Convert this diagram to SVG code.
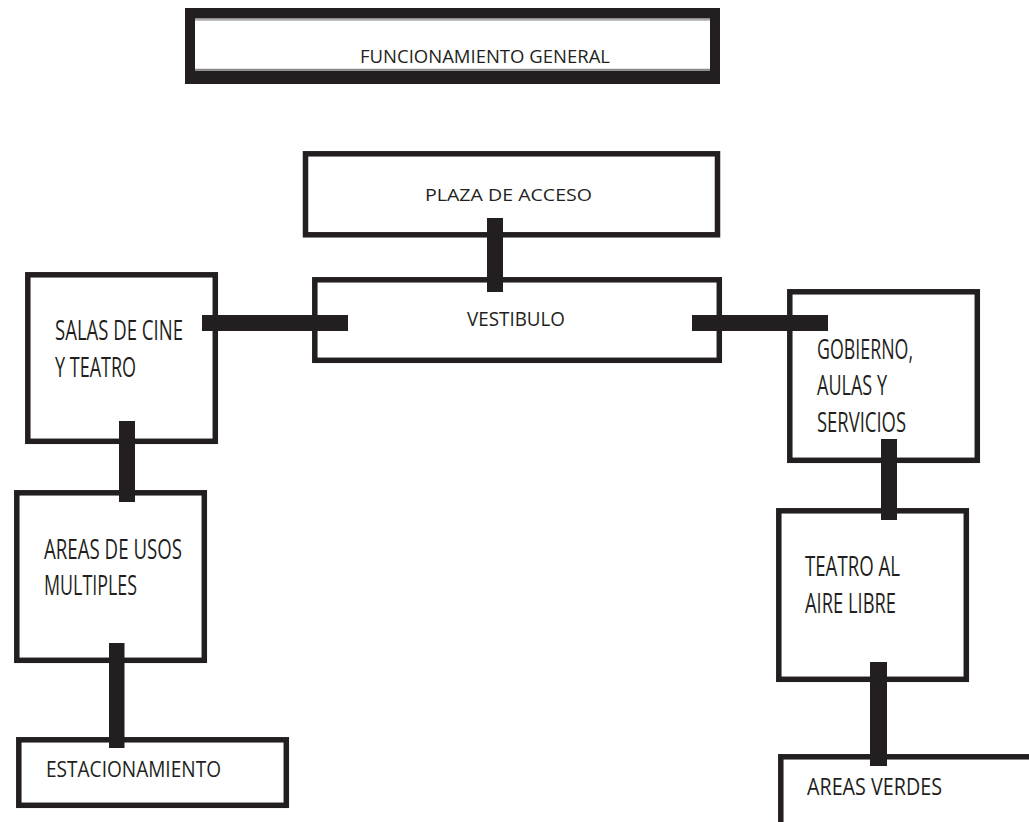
<svg xmlns="http://www.w3.org/2000/svg" width="1029" height="822" viewBox="0 0 1029 822">
  <style>
    .box { fill: #ffffff; stroke: #231f20; stroke-width: 5.5; }
    .bar { fill: #231f20; }
    .lbl { font-family: "Open Sans", "Liberation Sans", sans-serif; fill: #231f20; }
  </style>
  <rect width="1029" height="822" fill="#ffffff"/>

  <!-- title frame -->
  <g id="title">
    <path d="M185 8H720V84H185Z M195 18.5V70.5H710V18.5Z" fill="#231f20" fill-rule="evenodd"/>
    <line x1="195" y1="19.8" x2="710" y2="19.8" stroke="#8a8a8a" stroke-width="1.2"/>
    <line x1="195" y1="69.3" x2="710" y2="69.3" stroke="#8a8a8a" stroke-width="1.2"/>
    <text class="lbl" x="360" y="63" font-size="18" textLength="250" lengthAdjust="spacingAndGlyphs">FUNCIONAMIENTO GENERAL</text>
  </g>

  <g id="plaza">
    <rect class="box" x="305.5" y="153.8" width="412" height="81"/>
    <text class="lbl" x="425" y="200.5" font-size="17" textLength="167" lengthAdjust="spacingAndGlyphs">PLAZA DE ACCESO</text>
  </g>

  <g id="vestibulo">
    <rect class="box" x="314.8" y="279.8" width="404.5" height="80.5"/>
    <text class="lbl" x="467" y="325.5" font-size="20" textLength="98" lengthAdjust="spacingAndGlyphs">VESTIBULO</text>
  </g>

  <g id="salas">
    <rect class="box" x="27.8" y="274.8" width="187.5" height="166.5"/>
    <text class="lbl" x="55" y="340" font-size="28" textLength="128" lengthAdjust="spacingAndGlyphs">SALAS DE CINE</text>
    <text class="lbl" x="55" y="377" font-size="28" textLength="81" lengthAdjust="spacingAndGlyphs">Y TEATRO</text>
  </g>

  <g id="usos">
    <rect class="box" x="16.8" y="492.8" width="187.5" height="167.5"/>
    <text class="lbl" x="44" y="559" font-size="27" textLength="138" lengthAdjust="spacingAndGlyphs">AREAS DE USOS</text>
    <text class="lbl" x="44" y="595" font-size="27" textLength="93" lengthAdjust="spacingAndGlyphs">MULTIPLES</text>
  </g>

  <g id="estacionamiento">
    <rect class="box" x="18.8" y="739.8" width="267.5" height="65.5"/>
    <text class="lbl" x="46" y="777" font-size="21" textLength="175" lengthAdjust="spacingAndGlyphs">ESTACIONAMIENTO</text>
  </g>

  <g id="gobierno">
    <rect class="box" x="789.8" y="291.8" width="187.5" height="168.5"/>
    <text class="lbl" x="817" y="359" font-size="27" textLength="96" lengthAdjust="spacingAndGlyphs">GOBIERNO,</text>
    <text class="lbl" x="817" y="395" font-size="27" textLength="70" lengthAdjust="spacingAndGlyphs">AULAS Y</text>
    <text class="lbl" x="817" y="432" font-size="27" textLength="89" lengthAdjust="spacingAndGlyphs">SERVICIOS</text>
  </g>

  <g id="teatro">
    <rect class="box" x="778.8" y="510.8" width="187.5" height="168.5"/>
    <text class="lbl" x="805" y="576" font-size="27" textLength="95" lengthAdjust="spacingAndGlyphs">TEATRO AL</text>
    <text class="lbl" x="805" y="613" font-size="27" textLength="91" lengthAdjust="spacingAndGlyphs">AIRE LIBRE</text>
  </g>

  <g id="verdes">
    <rect class="box" x="780.8" y="756.8" width="260" height="80"/>
    <text class="lbl" x="807" y="795" font-size="23" textLength="135" lengthAdjust="spacingAndGlyphs">AREAS VERDES</text>
  </g>

  <!-- heavy connector bars -->
  <g id="connectors">
    <rect class="bar" x="487" y="218" width="16" height="74"/>
    <rect class="bar" x="202" y="315" width="146" height="16"/>
    <rect class="bar" x="692" y="315" width="136" height="16"/>
    <rect class="bar" x="119" y="421" width="16" height="81"/>
    <rect class="bar" x="109" y="643" width="15.5" height="105"/>
    <rect class="bar" x="881" y="439" width="16" height="81"/>
    <rect class="bar" x="870" y="662" width="17" height="104"/>
  </g>
</svg>
